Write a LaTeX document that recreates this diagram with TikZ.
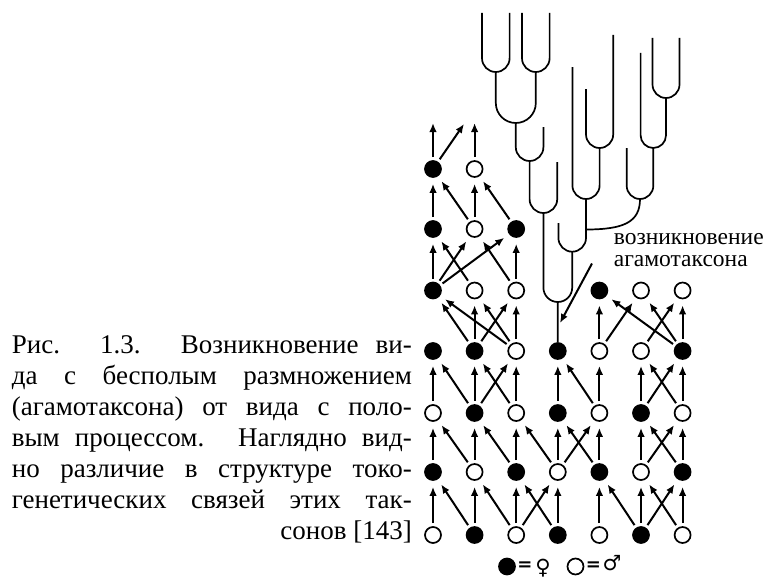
\documentclass[tikz,border=0pt]{standalone}
\usepackage{fontspec}
\setmainfont{Liberation Serif}
\newfontfamily\symbfont{DejaVu Sans}
\usetikzlibrary{arrows.meta}

\begin{document}
\begin{tikzpicture}[x=1pt, y=-1pt, line width=1.7pt,
      female/.style = {circle, draw, fill=black, minimum size=16pt, inner sep=0pt},
      male/.style = {circle, draw, fill=white, minimum size=16pt, inner sep=0pt},
      link/.style = {-{Latex[length=9pt,width=7.5pt]}, line width=2pt, shorten <=3pt, shorten >=6pt},
      branch/.style = {line width=1.7pt}]

  \useasboundingbox (0,0) rectangle (770,578);

  % Individuals, row 0 at the bottom
  \foreach \c/\s in {0/male,1/female,2/male,3/female,4/male,5/female,6/male}
    \node[\s] (r0c\c) at (433+41.6*\c, 535) {};
  \foreach \c/\s in {0/female,1/male,2/female,3/male,4/female,5/male,6/female}
    \node[\s] (r1c\c) at (433+41.6*\c, 472) {};
  \foreach \c/\s in {0/male,1/female,2/male,3/female,4/male,5/female,6/male}
    \node[\s] (r2c\c) at (433+41.6*\c, 413) {};
  \foreach \c/\s in {0/female,1/female,2/male,3/female,4/male,5/male,6/female}
    \node[\s] (r3c\c) at (433+41.6*\c, 351) {};
  \foreach \c/\s in {0/female,1/male,2/male,4/female,5/male,6/male}
    \node[\s] (r4c\c) at (433+41.6*\c, 290.5) {};
  \foreach \c/\s in {0/female,1/male,2/female}
    \node[\s] (r5c\c) at (433+41.6*\c, 229) {};
  \foreach \c/\s in {0/female,1/male}
    \node[\s] (r6c\c) at (433+41.6*\c, 169) {};

  % Parent -> offspring
  \foreach \a/\b in {0/0,1/0,1/1,2/1,2/2,2/3,3/2,3/3,4/4,5/4,5/5,5/6,6/5,6/6}
    \draw[link] (r0c\a) -- (r1c\b);
  \foreach \a/\b in {0/0,1/0,1/1,2/1,2/2,3/2,3/3,3/4,4/3,4/4,5/5,5/6,6/5,6/6}
    \draw[link] (r1c\a) -- (r2c\b);
  \foreach \a/\b in {0/0,1/0,1/1,1/2,2/1,2/2,3/3,4/3,4/4,5/5,5/6,6/5,6/6}
    \draw[link] (r2c\a) -- (r3c\b);
  \foreach \a/\b in {1/0,2/0,1/1,1/2,2/1,2/2,4/4,6/4,4/5,6/5,5/6,6/6}
    \draw[link] (r3c\a) -- (r4c\b);
  \foreach \a/\b in {0/0,1/0,0/1,2/1,0/2,2/2}
    \draw[link] (r4c\a) -- (r5c\b);
  \foreach \a/\b in {0/0,1/0,1/1,2/1}
    \draw[link] (r5c\a) -- (r6c\b);

  % Open ends at the top
  \coordinate (top0) at (433,123);
  \coordinate (top01) at (464,124);
  \coordinate (top1) at (474.6,123);
  \draw[link, shorten >=0pt] (r6c0) -- (top0);
  \draw[link, shorten >=0pt] (r6c0) -- (top01);
  \draw[link, shorten >=0pt] (r6c1) -- (top1);

  % Phylogenetic tree of the agamotaxon
  \foreach \xl/\xr/\ytl/\ytr/\yb in {
      482/509.6/13/13/72, 522/549.6/13/13/72, 495.8/535.8/72/72/123,
      515.8/543.4/123/127/161, 529.6/557.2/161/162/213, 543.4/572.2/213/251.7/302,
      586/613.2/89/35/148, 572.4/599.6/67/148/199, 558.4/586/223/199/251.7,
      652.5/679.5/38/38/98, 640.6/666/53/98/148, 626.7/653.3/148/148/199}
    \draw[branch] (\xl,\ytl) -- (\xl,{\yb-(\xr-\xl)/2})
      arc (180:0:{(\xr-\xl)/2}) -- (\xr,\ytr);
  \draw[branch] (640,199) .. controls (640,222) and (624,229.5) .. (586,229.5);
  \draw[branch] (557.8,302) -- (r3c3);

  % Label
  \node[anchor=north west, inner sep=0pt, align=left,
        font=\fontsize{23.5}{21.5}\selectfont] (agamo) at (613,233)
        {возникновение\\агамотаксона};
  \coordinate (origin) at (560,323);
  \draw[link, shorten <=0pt, shorten >=0pt]
    ([xshift=-21pt, yshift=4pt]agamo.south west) -- (origin);

  % Caption
  \node[anchor=north west, inner sep=0pt, text width=400pt, align=justify,
        font=\fontsize{27}{31}\selectfont] (caption) at (11,335)
    {\noindent Рис. 1.3. Возникновение ви-\linebreak
     да с бесполым размножением\linebreak
     (агамотаксона) от вида с поло-\linebreak
     вым процессом. Наглядно вид-\linebreak
     но различие в структуре токо-\linebreak
     генетических связей этих так-\linebreak
     \hspace*{0pt plus 1filll}сонов [143]};

  % Key
  \node[female] (keyf) at (507,566.5) {};
  \node[font=\symbfont\bfseries\fontsize{18}{18}\selectfont] (eqf) at (525,566) {=};
  \node[font=\symbfont\fontsize{21}{21}\selectfont] (venus) at (543,568) {♀};
  \node[male] (keym) at (575.5,566.5) {};
  \node[font=\symbfont\bfseries\fontsize{18}{18}\selectfont] (eqm) at (593.5,566) {=};
  \node[font=\symbfont\fontsize{21}{21}\selectfont] (mars) at (612,563) {♂};

\end{tikzpicture}
\end{document}
